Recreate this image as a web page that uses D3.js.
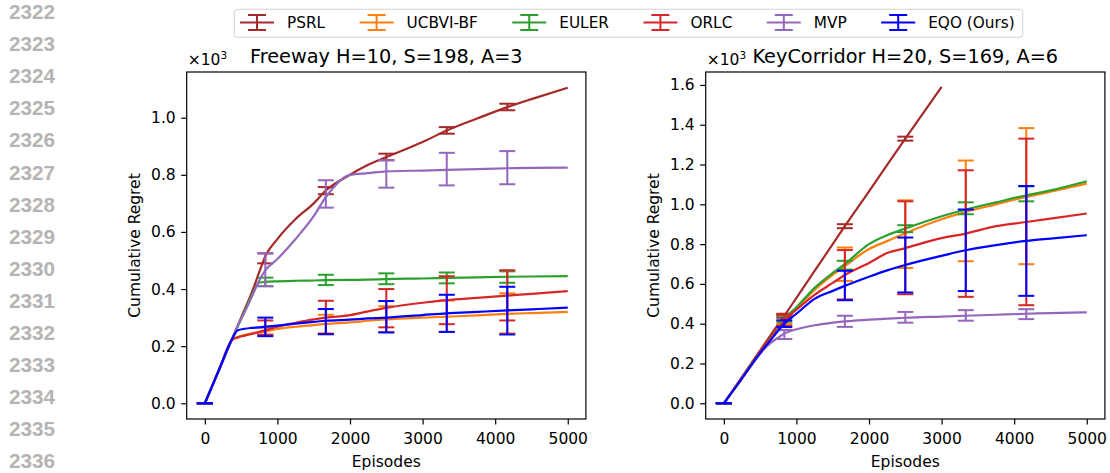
<!DOCTYPE html>
<html>
<head>
<meta charset="UTF-8">
<script src="https://d3js.org/d3.v7.min.js"></script>
<style>
  body { margin: 0; background: #fff; }
  text { font-family: "DejaVu Sans", sans-serif; }
</style>
</head>
<body>
<svg></svg>
<script>
const episodes = [0, 200, 375, 450, 550, 650, 750, 833, 1000, 1250, 1500, 1667, 2000, 2250, 2500, 3000, 3333, 3750, 4167, 4500, 5000];
// episodes carrying an error bar
const errEpisodes = [0, 833, 1667, 2500, 3333, 4167];

const methods = ["PSRL", "UCBVI-BF", "EULER", "ORLC", "MVP", "EQO (Ours)"];
const colors = ["#a52a2a", "#ff7f0e", "#2ca02c", "#d62728", "#9467bd", "#0000ff"];
const lineNumbers = [2322, 2323, 2324, 2325, 2326, 2327, 2328, 2329, 2330, 2331, 2332, 2333, 2334, 2335, 2336];

const xTicks = [0, 1000, 2000, 3000, 4000, 5000];
const freewayTicks = [0, 0.2, 0.4, 0.6, 0.8, 1.0];
const keyTicks = [0, 0.2, 0.4, 0.6, 0.8, 1.0, 1.2, 1.4, 1.6];

// Freeway, cumulative regret (x10^3)
const fwPSRL  = [0, 0.12, 0.225, 0.27, 0.33, 0.39, 0.46, 0.515, 0.575, 0.645, 0.70, 0.745, 0.80, 0.835, 0.862, 0.915, 0.955, 0.997, 1.037, 1.065, 1.105];
const fwUCBVI = [0, 0.12, 0.222, 0.232, 0.24, 0.245, 0.249, 0.252, 0.26, 0.268, 0.274, 0.278, 0.283, 0.289, 0.294, 0.30, 0.303, 0.308, 0.313, 0.316, 0.32];
const fwEULER = [0, 0.12, 0.225, 0.267, 0.324, 0.38, 0.422, 0.425, 0.427, 0.429, 0.43, 0.431, 0.432, 0.433, 0.435, 0.437, 0.439, 0.441, 0.443, 0.444, 0.445];
const fwORLC  = [0, 0.12, 0.222, 0.23, 0.237, 0.243, 0.25, 0.256, 0.268, 0.282, 0.294, 0.30, 0.309, 0.322, 0.334, 0.352, 0.361, 0.369, 0.377, 0.383, 0.393];
const fwMVP   = [0, 0.12, 0.225, 0.27, 0.32, 0.375, 0.43, 0.465, 0.505, 0.575, 0.655, 0.722, 0.80, 0.806, 0.812, 0.815, 0.817, 0.82, 0.823, 0.824, 0.825];
const fwEQO   = [0, 0.12, 0.225, 0.255, 0.261, 0.264, 0.266, 0.268, 0.272, 0.279, 0.285, 0.289, 0.293, 0.297, 0.30, 0.309, 0.315, 0.32, 0.325, 0.329, 0.335];

const fwLo = [
  [0, 0.49, 0.732, 0.851, 0.944, 1.026],
  [0, 0.24, 0.245, 0.25, 0.25, 0.245],
  [0, 0.41, 0.414, 0.417, 0.42, 0.422],
  [0, 0.24, 0.242, 0.266, 0.277, 0.29],
  [0, 0.41, 0.685, 0.755, 0.763, 0.767],
  [0, 0.235, 0.242, 0.248, 0.25, 0.241]
];
const fwHi = [
  [0, 0.525, 0.757, 0.874, 0.967, 1.049],
  [0, 0.265, 0.31, 0.34, 0.36, 0.385],
  [0, 0.44, 0.45, 0.455, 0.458, 0.462],
  [0, 0.29, 0.359, 0.40, 0.445, 0.466],
  [0, 0.525, 0.781, 0.851, 0.877, 0.883],
  [0, 0.30, 0.33, 0.358, 0.38, 0.408]
];

// KeyCorridor, cumulative regret (x10^3)
const kcPSRL  = [0, 0.106, 0.199, 0.239, 0.292, 0.345, 0.398, 0.44, 0.53, 0.665, 0.80, 0.89, 1.065, 1.198, 1.33, 1.59, null, null, null, null, null];
const kcUCBVI = [0, 0.1, 0.19, 0.228, 0.278, 0.327, 0.377, 0.42, 0.477, 0.57, 0.645, 0.69, 0.775, 0.815, 0.855, 0.925, 0.962, 1.0, 1.037, 1.063, 1.104];
const kcEULER = [0, 0.1, 0.19, 0.228, 0.278, 0.327, 0.378, 0.423, 0.482, 0.58, 0.655, 0.70, 0.80, 0.845, 0.878, 0.94, 0.974, 1.01, 1.045, 1.07, 1.116];
const kcORLC  = [0, 0.1, 0.19, 0.228, 0.278, 0.326, 0.375, 0.415, 0.47, 0.545, 0.605, 0.645, 0.705, 0.755, 0.78, 0.83, 0.853, 0.89, 0.911, 0.928, 0.954];
const kcMVP   = [0, 0.1, 0.19, 0.226, 0.27, 0.305, 0.33, 0.35, 0.372, 0.392, 0.405, 0.412, 0.42, 0.425, 0.43, 0.436, 0.44, 0.445, 0.45, 0.453, 0.457];
const kcEQO   = [0, 0.1, 0.19, 0.228, 0.276, 0.32, 0.365, 0.40, 0.45, 0.525, 0.565, 0.59, 0.636, 0.668, 0.695, 0.741, 0.769, 0.795, 0.816, 0.828, 0.845];

const kcLo = [
  [0, 0.43, 0.88, 1.32, null, null],
  [0, 0.40, 0.615, 0.68, 0.714, 0.699],
  [0, 0.41, 0.672, 0.86, 0.95, 1.015],
  [0, 0.39, 0.522, 0.548, 0.535, 0.493],
  [0, 0.323, 0.384, 0.405, 0.415, 0.423],
  [0, 0.383, 0.518, 0.557, 0.564, 0.54]
];
const kcHi = [
  [0, 0.45, 0.90, 1.34, null, null],
  [0, 0.44, 0.783, 1.02, 1.22, 1.383],
  [0, 0.44, 0.716, 0.895, 1.01, 1.09],
  [0, 0.445, 0.77, 1.015, 1.171, 1.33],
  [0, 0.368, 0.44, 0.459, 0.468, 0.473],
  [0, 0.417, 0.666, 0.833, 0.974, 1.092]
];

let width = 1110, height = 473;
let svg = d3.select("svg").attr("width", width).attr("height", height);

// manuscript line numbers down the left margin
svg.append("g").selectAll("text")
  .data(lineNumbers)
  .enter().append("text")
  .attr("x", 9)
  .attr("y", (d, i) => 19 + i * 32.1)
  .style("font-family", "'Liberation Sans', Arial, sans-serif")
  .style("font-weight", "bold")
  .style("font-size", "20.7px")
  .attr("fill", "#b4b4b4")
  .text(d => d);

const panels = [
  { title: "Freeway H=10, S=198, A=3", x0: 186.7, yDomain: [-0.055, 1.16], ticks: freewayTicks,
    lines: [fwPSRL, fwUCBVI, fwEULER, fwORLC, fwMVP, fwEQO], lo: fwLo, hi: fwHi },
  { title: "KeyCorridor H=20, S=169, A=6", x0: 705.7, yDomain: [-0.079, 1.665], ticks: keyTicks,
    lines: [kcPSRL, kcUCBVI, kcEULER, kcORLC, kcMVP, kcEQO], lo: kcLo, hi: kcHi }
];

const plotTop = 72, plotBottom = 419, plotW = 399.2;
const fs = 15.5;

panels.forEach(p => {
  let x = d3.scaleLinear().domain([-250, 5250]).range([p.x0, p.x0 + plotW]);
  let y = d3.scaleLinear().domain(p.yDomain).range([plotBottom, plotTop]);
  let g = svg.append("g");

  let line = d3.line()
    .defined(d => d != null)
    .x((d, i) => x(episodes[i]))
    .y(d => y(d))
    .curve(d3.curveMonotoneX);

  p.lines.forEach((vals, k) => {
    g.append("path")
      .attr("d", line(vals))
      .attr("fill", "none")
      .attr("stroke", colors[k])
      .attr("stroke-width", 2.2)
      .attr("stroke-linejoin", "round");

    errEpisodes.forEach((e, j) => {
      let lo = p.lo[k][j], hi = p.hi[k][j];
      if (lo == null) return;
      let cx = x(e);
      g.append("line").attr("x1", cx).attr("x2", cx).attr("y1", y(lo)).attr("y2", y(hi))
        .attr("stroke", colors[k]).attr("stroke-width", 2);
      [lo, hi].forEach(v => {
        g.append("line").attr("x1", cx - 8).attr("x2", cx + 8).attr("y1", y(v)).attr("y2", y(v))
          .attr("stroke", colors[k]).attr("stroke-width", 2);
      });
    });
  });

  // axes
  let xAxis = g.append("g").attr("transform", `translate(0,${plotBottom})`)
    .call(d3.axisBottom(x).tickValues(xTicks).tickSize(5.5).tickPadding(8).tickFormat(d3.format("d")));
  let yAxis = g.append("g").attr("transform", `translate(${p.x0},0)`)
    .call(d3.axisLeft(y).tickValues(p.ticks).tickSize(5.5).tickPadding(5.5).tickFormat(d3.format(".1f")));
  [xAxis, yAxis].forEach(a => {
    a.select(".domain").remove();
    a.selectAll("line").attr("stroke", "#000").attr("stroke-width", 1.2);
    a.selectAll("text").attr("fill", "#000").style("font-size", fs + "px")
      .style("font-family", "'DejaVu Sans', sans-serif");
  });

  g.append("rect")
    .attr("x", p.x0).attr("y", plotTop).attr("width", plotW).attr("height", plotBottom - plotTop)
    .attr("fill", "none").attr("stroke", "#000").attr("stroke-width", 1.2);

  let cx = p.x0 + plotW / 2;
  g.append("text").attr("x", cx).attr("y", 63).attr("text-anchor", "middle")
    .style("font-size", "19.3px").text(p.title);

  let off = g.append("text").attr("x", p.x0 + 1).attr("y", 65).style("font-size", fs + "px").text("\u00d710");
  off.append("tspan").attr("dy", -6).style("font-size", "10.5px").text("3");

  g.append("text").attr("x", cx).attr("y", 467).attr("text-anchor", "middle")
    .style("font-size", fs + "px").text("Episodes");

  g.append("text")
    .attr("transform", `translate(${p.x0 - 46.7},${(plotTop + plotBottom) / 2}) rotate(-90)`)
    .attr("text-anchor", "middle")
    .style("font-size", fs + "px").text("Cumulative Regret");
});

// legend
let leg = svg.append("g");
let box = leg.append("rect")
  .attr("x", 234.3).attr("y", 9.3).attr("height", 28).attr("rx", 3)
  .attr("fill", "#fff").attr("stroke", "#d3d3d3").attr("stroke-width", 1);
let lx = 240;
methods.forEach((m, k) => {
  let c = colors[k];
  leg.append("line").attr("x1", lx).attr("x2", lx + 34).attr("y1", 22.5).attr("y2", 22.5)
    .attr("stroke", c).attr("stroke-width", 2.2);
  leg.append("line").attr("x1", lx + 17).attr("x2", lx + 17).attr("y1", 15).attr("y2", 30)
    .attr("stroke", c).attr("stroke-width", 2);
  [15, 30].forEach(cy => {
    leg.append("line").attr("x1", lx + 8).attr("x2", lx + 26).attr("y1", cy).attr("y2", cy)
      .attr("stroke", c).attr("stroke-width", 2);
  });
  let t = leg.append("text").attr("x", lx + 47).attr("y", 28.2)
    .style("font-size", "15.3px").text(m);
  let w = t.node().getComputedTextLength();
  lx = lx + 47 + w + 34.5;
});
box.attr("width", lx - 34.5 + 8 - 234.3);
</script>
</body>
</html>
